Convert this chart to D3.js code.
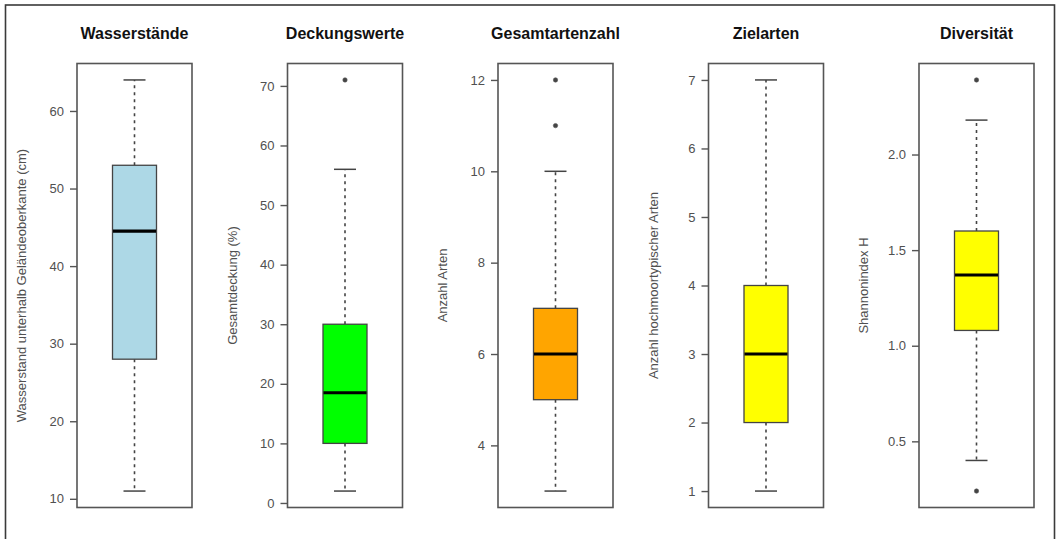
<!DOCTYPE html>
<html>
<head>
<meta charset="utf-8">
<script src="https://cdn.jsdelivr.net/npm/d3@7"></script>
<style>
  html, body { margin: 0; padding: 0; background: #fff; }
  svg { display: block; font-family: "Liberation Sans", Arial, Helvetica, sans-serif; }
</style>
</head>
<body>
<svg id="chart" width="1057" height="539"></svg>
<script>
// ---- data ----
const titles = ["Wasserstände", "Deckungswerte", "Gesamtartenzahl", "Zielarten", "Diversität"];
const yLabels = [
  "Wasserstand unterhalb Geländeoberkante (cm)",
  "Gesamtdeckung (%)",
  "Anzahl Arten",
  "Anzahl hochmoortypischer Arten",
  "Shannonindex H"
];
const lowerWhisker = [11, 2, 3, 1, 0.40];
const q1 = [28, 10, 5, 2, 1.08];
const median = [44.5, 18.5, 6, 3, 1.37];
const q3 = [53, 30, 7, 4, 1.60];
const upperWhisker = [64, 56, 10, 7, 2.18];
const outliers = [[], [71], [11, 12], [], [2.39, 0.24]];
const fills = ["#add8e6", "#00ff00", "#ffa500", "#ffff00", "#ffff00"];
const tickValues = [
  [10, 20, 30, 40, 50, 60],
  [0, 10, 20, 30, 40, 50, 60, 70],
  [4, 6, 8, 10, 12],
  [1, 2, 3, 4, 5, 6, 7],
  [0.5, 1.0, 1.5, 2.0]
];
const tickFormats = ["d", "d", "d", "d", ".1f"];

// ---- layout ----
const svg = d3.select("#chart");
const panelTop = 63.5, panelBottom = 507.5;
const panelW = 115, panelStep = 210.5, firstLeft = 77;
const boxW = 44, capW = 22;
const gray = "#505050";

// outer frame (bottom edge lies outside the picture)
svg.append("rect")
  .attr("x", 5.5).attr("y", 5).attr("width", 1049).attr("height", 560)
  .attr("fill", "none").attr("stroke", "#3a3a3a").attr("stroke-width", 1.6);

titles.forEach((title, i) => {
  const left = firstLeft + i * panelStep;
  const cx = left + panelW / 2;
  const all = [lowerWhisker[i], upperWhisker[i], ...outliers[i]];
  const lo = d3.min(all), hi = d3.max(all);
  const pad = (hi - lo) * 0.04;
  const y = d3.scaleLinear().domain([lo - pad, hi + pad]).range([panelBottom, panelTop]);

  const g = svg.append("g");

  // title
  g.append("text")
    .attr("x", cx).attr("y", 39)
    .attr("text-anchor", "middle")
    .attr("font-size", 16).attr("font-weight", "bold").attr("fill", "#111")
    .text(title);

  // y axis
  const axis = d3.axisLeft(y).tickValues(tickValues[i]).tickFormat(d3.format(tickFormats[i]))
    .tickSize(7).tickPadding(6);
  const ax = g.append("g").attr("transform", `translate(${left},0)`).call(axis);
  ax.select(".domain").remove();
  ax.selectAll(".tick line").attr("stroke", "#555").attr("stroke-width", 1.4);
  ax.selectAll(".tick text").attr("fill", gray).attr("font-size", 13)
    .attr("font-family", "\"Liberation Sans\", Arial, sans-serif");

  // y label
  g.append("text")
    .attr("transform", `translate(${left - 54},${(panelTop + panelBottom) / 2}) rotate(-90)`)
    .attr("text-anchor", "middle").attr("dominant-baseline", "middle")
    .attr("font-size", 13).attr("fill", gray)
    .text(yLabels[i]);

  // whiskers (dashed)
  g.append("line")
    .attr("x1", cx).attr("x2", cx)
    .attr("y1", y(q3[i])).attr("y2", y(upperWhisker[i]))
    .attr("stroke", "#444").attr("stroke-width", 1.6).attr("stroke-dasharray", "3,4");
  g.append("line")
    .attr("x1", cx).attr("x2", cx)
    .attr("y1", y(q1[i])).attr("y2", y(lowerWhisker[i]))
    .attr("stroke", "#444").attr("stroke-width", 1.6).attr("stroke-dasharray", "3,4");
  // caps
  [upperWhisker[i], lowerWhisker[i]].forEach(v => {
    g.append("line")
      .attr("x1", cx - capW / 2).attr("x2", cx + capW / 2)
      .attr("y1", y(v)).attr("y2", y(v))
      .attr("stroke", "#444").attr("stroke-width", 1.5);
  });

  // box
  g.append("rect")
    .attr("x", cx - boxW / 2).attr("width", boxW)
    .attr("y", y(q3[i])).attr("height", y(q1[i]) - y(q3[i]))
    .attr("fill", fills[i]).attr("stroke", "#444").attr("stroke-width", 1.3);

  // median
  g.append("line")
    .attr("x1", cx - boxW / 2 + 0.5).attr("x2", cx + boxW / 2 - 0.5)
    .attr("y1", y(median[i])).attr("y2", y(median[i]))
    .attr("stroke", "#000").attr("stroke-width", 3.2);

  // outliers
  g.selectAll("circle.out").data(outliers[i]).enter().append("circle")
    .attr("class", "out")
    .attr("cx", cx).attr("cy", d => y(d)).attr("r", 2.2)
    .attr("fill", "#444").attr("stroke", "#555").attr("stroke-width", 0.6);

  // panel border
  g.append("rect")
    .attr("x", left).attr("y", panelTop).attr("width", panelW).attr("height", panelBottom - panelTop)
    .attr("fill", "none").attr("stroke", "#555").attr("stroke-width", 1.6);
});
</script>
</body>
</html>
